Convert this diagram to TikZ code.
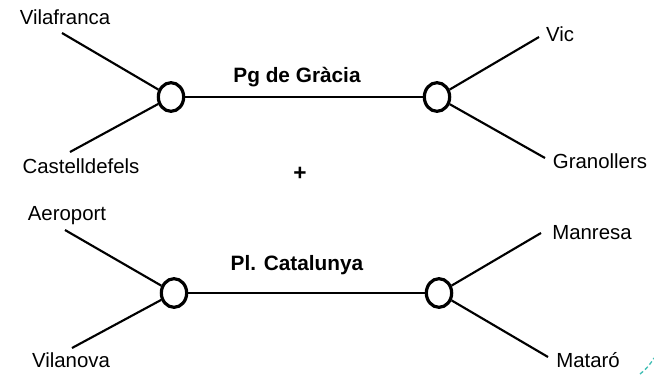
\documentclass[tikz,border=0pt]{standalone}
\usepackage{fontspec}
\setmainfont{Liberation Sans}
\usetikzlibrary{shapes.geometric}
\begin{document}
\begin{tikzpicture}[x=0.75pt,y=-0.75pt,
  station/.style={draw,ellipse,line width=2.4pt,inner sep=0pt,minimum width=19pt,minimum height=21.5pt,fill=white},
  track/.style={line width=1.6pt},
  lbl/.style={inner sep=0pt,font=\fontsize{15.3pt}{17pt}\selectfont},
  blbl/.style={inner sep=0pt,font=\fontsize{15.6pt}{17pt}\selectfont\bfseries}]
\useasboundingbox (0,0) rectangle (654,375);
% top line
\node[station] (a1) at (171,97) {};
\node[station] (a2) at (437,97) {};
\coordinate (vf) at (62,33);
\coordinate (cd) at (70,152);
\coordinate (vc) at (539,37);
\coordinate (gr) at (545,158);
\draw[track] (vf) -- (a1);
\draw[track] (cd) -- (a1);
\draw[track] (a1) -- (a2);
\draw[track] (a2) -- (vc);
\draw[track] (a2) -- (gr);
\node[lbl] (tvf) at (65,17) {Vilafranca};
\node[lbl] (tcd) at (81,166) {Castelldefels};
\node[lbl] (tvc) at (560,34) {Vic};
\node[lbl] (tgr) at (600,161) {Granollers};
\node[blbl] (tpg) at (297,77) {Pg de Gràcia};
\node[lbl,font=\fontsize{17pt}{18pt}\selectfont\bfseries] (plus) at (300,174) {+};
% bottom line
\node[station] (b1) at (174,293) {};
\node[station] (b2) at (439,293) {};
\coordinate (ae) at (65,230);
\coordinate (vn) at (72,348);
\coordinate (mn) at (541,233);
\coordinate (mt) at (548,357);
\draw[track] (ae) -- (b1);
\draw[track] (vn) -- (b1);
\draw[track] (b1) -- (b2);
\draw[track] (b2) -- (mn);
\draw[track] (b2) -- (mt);
\node[lbl] (tae) at (67,216) {Aeroport};
\node[lbl] (tvn) at (71,360) {Vilanova};
\node[lbl] (tmn) at (592,233) {Manresa};
\node[lbl] (tmt) at (588,360) {Mataró};
\node[blbl] (tpl) at (297,265) {Pl. Catalunya};
% corner artefact
\draw[color={rgb,255:red,64;green,190;blue,180},line width=1pt,dash pattern=on 3pt off 2pt] (640,374) to[bend right=10] (654,358);
\end{tikzpicture}
\end{document}
